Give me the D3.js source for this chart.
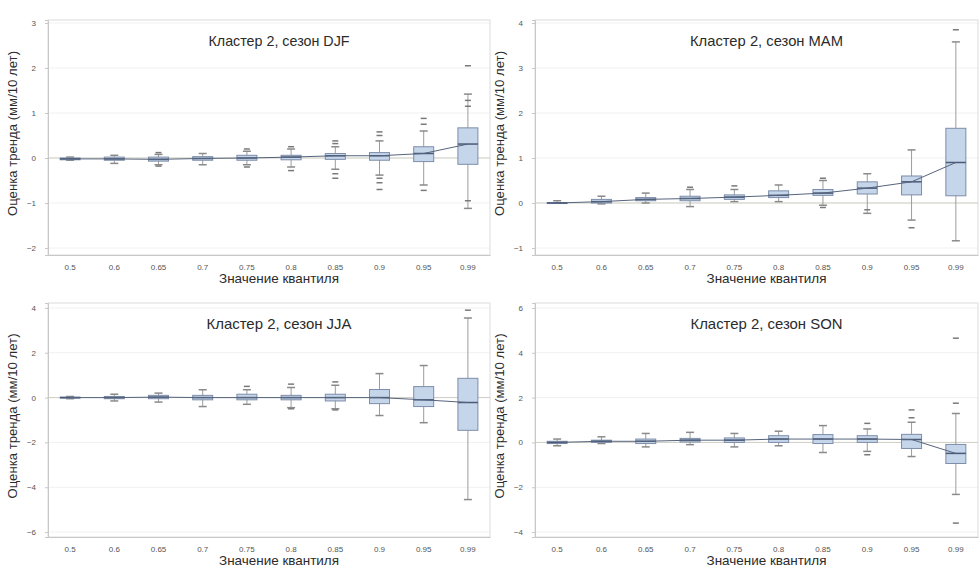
<!DOCTYPE html>
<html>
<head>
<meta charset="utf-8">
<script src="https://cdn.jsdelivr.net/npm/d3@7"></script>
<style>
  body { margin: 0; background: #fff; }
  svg { display: block; font-family: "Liberation Sans", Arial, sans-serif; }
</style>
</head>
<body>
<svg id="chart" width="979" height="569"></svg>
<script>
// Значения квантилей (категории по оси X)
var quantiles = ["0.5", "0.6", "0.65", "0.7", "0.75", "0.8", "0.85", "0.9", "0.95", "0.99"];

// Каждая строка: [нижний ус, Q1, медиана, Q3, верхний ус]
var djfBoxes = [
  [-0.05, -0.04, -0.02, 0.00, 0.02],
  [-0.12, -0.05, -0.02, 0.02, 0.06],
  [-0.15, -0.07, -0.03, 0.02, 0.08],
  [-0.15, -0.05, -0.01, 0.03, 0.10],
  [-0.15, -0.05, 0.00, 0.06, 0.15],
  [-0.20, -0.04, 0.02, 0.06, 0.20],
  [-0.25, -0.03, 0.05, 0.10, 0.25],
  [-0.38, -0.05, 0.05, 0.12, 0.38],
  [-0.60, -0.08, 0.10, 0.25, 0.60],
  [-1.12, -0.14, 0.31, 0.67, 1.42]
];
var djfOutliers = [[2, 0.12], [2, -0.18], [4, 0.20], [4, -0.20], [5, 0.25], [5, -0.28],
  [6, 0.32], [6, 0.38], [6, -0.35], [6, -0.45], [7, 0.50], [7, 0.58], [7, -0.45], [7, -0.55], [7, -0.70],
  [8, 0.75], [8, 0.88], [8, -0.72], [9, 2.05], [9, 1.15], [9, 1.28], [9, -0.95]];
var djfTicks = [3, 2, 1, 0, -1, -2];

var mamBoxes = [
  [0.00, 0.00, 0.00, 0.01, 0.05],
  [-0.02, 0.00, 0.03, 0.08, 0.15],
  [0.00, 0.05, 0.08, 0.12, 0.22],
  [-0.08, 0.05, 0.10, 0.15, 0.30],
  [0.03, 0.08, 0.13, 0.18, 0.30],
  [0.03, 0.12, 0.17, 0.27, 0.40],
  [-0.05, 0.17, 0.22, 0.30, 0.50],
  [-0.23, 0.20, 0.33, 0.47, 0.65],
  [-0.38, 0.18, 0.47, 0.60, 1.18],
  [-0.84, 0.16, 0.90, 1.66, 3.58]
];
var mamOutliers = [[3, 0.35], [4, 0.38], [6, 0.55], [6, -0.10], [7, -0.15], [8, -0.55], [9, 3.85]];
var mamTicks = [4, 3, 2, 1, 0, -1];

var jjaBoxes = [
  [-0.05, -0.02, 0.00, 0.02, 0.05],
  [-0.15, -0.05, 0.00, 0.05, 0.15],
  [-0.20, -0.05, 0.02, 0.10, 0.20],
  [-0.40, -0.10, 0.00, 0.10, 0.35],
  [-0.30, -0.10, 0.00, 0.15, 0.35],
  [-0.45, -0.10, 0.00, 0.10, 0.45],
  [-0.50, -0.15, 0.00, 0.15, 0.55],
  [-0.80, -0.27, 0.00, 0.36, 1.07],
  [-1.12, -0.40, -0.10, 0.49, 1.43],
  [-4.55, -1.46, -0.22, 0.86, 3.55]
];
var jjaOutliers = [[4, 0.50], [5, 0.60], [5, -0.50], [6, 0.70], [6, -0.55], [9, 3.90]];
var jjaTicks = [4, 2, 0, -2, -4, -6];

var sonBoxes = [
  [-0.15, -0.05, 0.00, 0.05, 0.15],
  [-0.05, 0.00, 0.05, 0.10, 0.25],
  [-0.20, -0.05, 0.05, 0.15, 0.40],
  [-0.10, 0.02, 0.10, 0.18, 0.45],
  [-0.20, 0.00, 0.10, 0.20, 0.40],
  [-0.15, 0.00, 0.15, 0.30, 0.50],
  [-0.45, -0.05, 0.15, 0.35, 0.75],
  [-0.40, 0.00, 0.15, 0.30, 0.60],
  [-0.63, -0.27, 0.13, 0.36, 0.90],
  [-2.32, -0.94, -0.49, -0.09, 1.29]
];
var sonOutliers = [[7, 0.85], [7, -0.55], [8, 1.45], [8, 1.10], [9, 1.75], [9, 4.65], [9, -3.60]];
var sonTicks = [6, 4, 2, 0, -2, -4];

var panels = [
  { title: "Кластер 2, сезон DJF", boxes: djfBoxes, outliers: djfOutliers, ticks: djfTicks,
    domain: [-2.156, 3.067], x0: 48, x1: 490, y0: 20, y1: 255, titleLen: 141 },
  { title: "Кластер 2, сезон MAM", boxes: mamBoxes, outliers: mamOutliers, ticks: mamTicks,
    domain: [-1.156, 4.067], x0: 535, x1: 978, y0: 20, y1: 255, titleLen: 153 },
  { title: "Кластер 2, сезон JJA", boxes: jjaBoxes, outliers: jjaOutliers, ticks: jjaTicks,
    domain: [-6.22, 4.22], x0: 48, x1: 490, y0: 303, y1: 537, titleLen: 145 },
  { title: "Кластер 2, сезон SON", boxes: sonBoxes, outliers: sonOutliers, ticks: sonTicks,
    domain: [-4.22, 6.22], x0: 535, x1: 978, y0: 303, y1: 537, titleLen: 152 }
];

var svg = d3.select("#chart");

panels.forEach(drawPanel);

function drawPanel(p) {
  var x = d3.scaleBand().domain(quantiles).range([p.x0, p.x1]).padding(0);
  var y = d3.scaleLinear().domain(p.domain).range([p.y1, p.y0]);
  var g = svg.append("g");
  var boxW = 20, capW = 8;

  // faint grid
  g.selectAll(".grid").data(p.ticks).enter().append("line")
    .attr("x1", p.x0).attr("x2", p.x1)
    .attr("y1", function(d) { return y(d); }).attr("y2", function(d) { return y(d); })
    .attr("stroke", "#f1f1f1");

  // frame
  g.append("rect")
    .attr("x", p.x0).attr("y", p.y0)
    .attr("width", p.x1 - p.x0).attr("height", p.y1 - p.y0)
    .attr("fill", "none").attr("stroke", "#dcdcdc");

  // zero line
  g.append("line")
    .attr("x1", p.x0).attr("x2", p.x1)
    .attr("y1", y(0)).attr("y2", y(0))
    .attr("stroke", "#cfcfc4").attr("stroke-width", 1);

  // y axis
  var yAxis = g.append("g")
    .attr("transform", "translate(" + p.x0 + ",0)")
    .call(d3.axisLeft(y).tickValues(p.ticks).tickSize(3).tickPadding(9).tickFormat(d3.format("d")));
  yAxis.select(".domain").attr("stroke", "#c8c8c8");
  yAxis.selectAll(".tick line").attr("stroke", "#c8c8c8");
  yAxis.selectAll(".tick text").attr("font-size", 8).attr("fill", "#555");

  // x axis
  var xAxis = g.append("g")
    .attr("transform", "translate(0," + p.y1 + ")")
    .call(d3.axisBottom(x).tickSize(0).tickPadding(9));
  xAxis.select(".domain").attr("stroke", "#c8c8c8");
  xAxis.selectAll(".tick text").attr("font-size", 8).attr("fill", "#555");

  var cx = function(i) { return x(quantiles[i]) + x.bandwidth() / 2; };

  // whiskers
  var box = g.selectAll(".box").data(p.boxes).enter().append("g");
  box.append("line")
    .attr("x1", function(d, i) { return cx(i); }).attr("x2", function(d, i) { return cx(i); })
    .attr("y1", function(d) { return y(d[0]); }).attr("y2", function(d) { return y(d[4]); })
    .attr("stroke", "#9c9c9c");
  box.append("line")
    .attr("x1", function(d, i) { return cx(i) - capW / 2; }).attr("x2", function(d, i) { return cx(i) + capW / 2; })
    .attr("y1", function(d) { return y(d[4]); }).attr("y2", function(d) { return y(d[4]); })
    .attr("stroke", "#8a8a8a").attr("stroke-width", 1.5);
  box.append("line")
    .attr("x1", function(d, i) { return cx(i) - capW / 2; }).attr("x2", function(d, i) { return cx(i) + capW / 2; })
    .attr("y1", function(d) { return y(d[0]); }).attr("y2", function(d) { return y(d[0]); })
    .attr("stroke", "#8a8a8a").attr("stroke-width", 1.5);

  // boxes
  box.append("rect")
    .attr("x", function(d, i) { return cx(i) - boxW / 2; })
    .attr("y", function(d) { return y(d[3]); })
    .attr("width", boxW)
    .attr("height", function(d) { return Math.max(1, y(d[1]) - y(d[3])); })
    .attr("fill", "#c5d5ea").attr("stroke", "#7d8daa");

  // outliers as short dashes
  g.selectAll(".out").data(p.outliers).enter().append("line")
    .attr("x1", function(d) { return cx(d[0]) - 3; }).attr("x2", function(d) { return cx(d[0]) + 3; })
    .attr("y1", function(d) { return y(d[1]); }).attr("y2", function(d) { return y(d[1]); })
    .attr("stroke", "#7a7a7a").attr("stroke-width", 1.5);

  // median connecting line
  var line = d3.line()
    .x(function(d, i) { return cx(i); })
    .y(function(d) { return y(d[2]); });
  g.append("path").datum(p.boxes)
    .attr("d", line).attr("fill", "none")
    .attr("stroke", "#56647c").attr("stroke-width", 1);

  // medians
  box.append("line")
    .attr("x1", function(d, i) { return cx(i) - boxW / 2; }).attr("x2", function(d, i) { return cx(i) + boxW / 2; })
    .attr("y1", function(d) { return y(d[2]); }).attr("y2", function(d) { return y(d[2]); })
    .attr("stroke", "#4a5a78").attr("stroke-width", 1.5);

  // titles
  var midX = (p.x0 + p.x1) / 2 + 10;
  g.append("text")
    .attr("x", midX).attr("y", p.y0 + 26)
    .attr("text-anchor", "middle")
    .attr("font-size", 15).attr("fill", "#2b2b2b")
    .attr("textLength", p.titleLen).attr("lengthAdjust", "spacingAndGlyphs")
    .text(p.title);

  g.append("text")
    .attr("x", (p.x0 + p.x1) / 2 + 10).attr("y", p.y1 + 28)
    .attr("text-anchor", "middle")
    .attr("font-size", 13).attr("fill", "#2b2b2b")
    .attr("textLength", 120).attr("lengthAdjust", "spacingAndGlyphs")
    .text("Значение квантиля");

  g.append("text")
    .attr("transform", "translate(" + (p.x0 - 31) + "," + ((p.y0 + p.y1) / 2 - 4) + ") rotate(-90)")
    .attr("text-anchor", "middle")
    .attr("font-size", 12).attr("fill", "#2b2b2b")
    .attr("textLength", 165).attr("lengthAdjust", "spacingAndGlyphs")
    .text("Оценка тренда (мм/10 лет)");
}
</script>
</body>
</html>
